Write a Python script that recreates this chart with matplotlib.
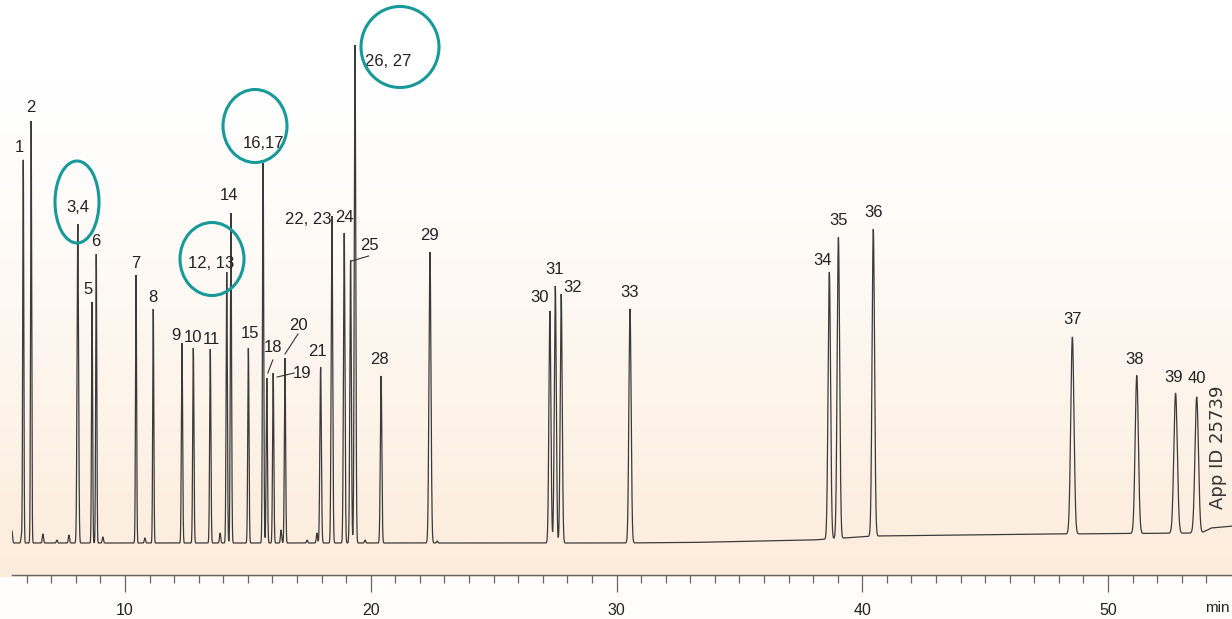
import numpy as np
import matplotlib
matplotlib.use("Agg")
import matplotlib.pyplot as plt
from matplotlib.patches import Ellipse
from matplotlib.lines import Line2D
from matplotlib.transforms import IdentityTransform

# ---------------- data ----------------
peak_labels = ['1', '2', '3,4', '5', '6', '7', '8', '9', '10', '11',
               '12, 13', '14', '15', '16,17', '18', '19', '20', '21', '22, 23', '24',
               '25', '26, 27', '28', '29', '30', '31', '32', '33', '34', '35',
               '36', '37', '38', '39', '40']
peak_times = [5.86, 6.18, 8.08, 8.66, 8.83, 10.45, 11.15, 12.32, 12.78, 13.47,
              14.14, 14.31, 15.02, 15.62, 15.77, 16.03, 16.51, 17.96, 18.42, 18.92,
              19.18, 19.36, 20.42, 22.41, 27.29, 27.51, 27.75, 30.55, 38.66, 39.03,
              40.45, 48.55, 51.17, 52.75, 53.61]
peak_heights = [383, 422, 319, 241, 289, 268, 234, 200, 195, 194,
                271, 330, 195, 380, 165, 170, 185, 176, 327, 310,
                283, 498, 167, 291, 232, 257, 249, 234, 267, 301,
                307, 197, 158, 140, 136]
peak_sigmas = [0.022, 0.022, 0.03, 0.022, 0.022, 0.022, 0.022, 0.025, 0.025, 0.025,
               0.025, 0.025, 0.025, 0.025, 0.025, 0.025, 0.025, 0.03, 0.03, 0.03,
               0.03, 0.03, 0.03, 0.04, 0.04, 0.04, 0.04, 0.045, 0.05, 0.05,
               0.05, 0.065, 0.065, 0.07, 0.07]

minor_times = [5.40, 5.79, 6.66, 7.23, 7.72, 9.10, 10.81, 13.87, 16.35, 17.41, 17.81, 19.77, 22.70]
minor_heights = [12, 7, 9, 3, 8, 6, 5, 10, 13, 3, 10, 3, 2]

baseline_times = [5.4, 30.0, 33.0, 38.0, 40.5, 48.0, 53.8, 54.2, 55.1]
baseline_levels = [0, 0, 0.5, 3, 7, 9, 10, 15, 17]

major_ticks = [10, 20, 30, 40, 50]
minor_ticks = list(range(6, 55))

# ---------------- layout / style ----------------
W, H = 1232, 619
LINE = '#3b3b3b'
TEAL = '#17999a'
plt.rcParams['font.family'] = ['Liberation Sans Narrow', 'Liberation Sans', 'DejaVu Sans']

fig = plt.figure(figsize=(W / 100, H / 100), dpi=100)

# background gradient (white top -> peach near the axis)
bg = fig.add_axes([0, 0, 1, 1], zorder=0)
bg.axis('off')
rows = np.arange(H)
frac = np.clip((rows - 80) / (575 - 80), 0, 1) ** 1.3
top_c = np.array([255, 255, 255]) / 255
bot_c = np.array([252, 236, 219]) / 255
img = top_c[None, :] * (1 - frac[:, None]) + bot_c[None, :] * frac[:, None]
img[rows > 576] = np.array([255, 254, 252]) / 255
bg.imshow(img[:, None, :].repeat(4, axis=1), aspect='auto', extent=(0, W, H, 0))
bg.set_xlim(0, W)
bg.set_ylim(H, 0)

# main axes
ax_left, ax_bottom_px = 12, 575
ax = fig.add_axes([ax_left / W, (H - ax_bottom_px) / H, (W - ax_left) / W, ax_bottom_px / H], zorder=1)
ax.patch.set_alpha(0)
px_per_min = 24.575
x0 = 10 + (ax_left - 125) / px_per_min
x1 = 10 + (W - 125) / px_per_min
ax.set_xlim(x0, x1)
ax.set_ylim(-32, 543)

t = np.arange(5.40, 55.06, 0.002)
sig = np.interp(t, baseline_times, baseline_levels)
for tp, hp, sp in zip(peak_times, peak_heights, peak_sigmas):
    sig = sig + hp * np.exp(-0.5 * ((t - tp) / sp) ** 2)
for tp, hp in zip(minor_times, minor_heights):
    sig = sig + hp * np.exp(-0.5 * ((t - tp) / 0.025) ** 2)
ax.plot(t, sig, color=LINE, lw=0.9, solid_joinstyle='miter')

for s in ['top', 'right', 'left']:
    ax.spines[s].set_visible(False)
ax.spines['bottom'].set_color('#666666')
ax.spines['bottom'].set_linewidth(1.0)
ax.set_yticks([])
ax.set_xticks(major_ticks)
ax.set_xticks(minor_ticks, minor=True)
ax.set_xticklabels([str(v) for v in major_ticks])
ax.tick_params(axis='x', which='major', length=12, width=0.9, color='#666666',
               labelsize=11.5, labelcolor='#222222', pad=8)
ax.tick_params(axis='x', which='minor', length=6, width=0.9, color='#666666')

# peak labels: offsets in pixels relative to the peak top
label_offsets = {
    '1': (-4, 13), '2': (0, 13), '3,4': (0, 16), '5': (-4, 12), '6': (0, 12),
    '7': (0, 12), '8': (0, 12), '9': (-6, 8), '10': (0, 10), '11': (1, 10),
    '12, 13': (-16, 9), '14': (-2, 17), '15': (2, 15), '16,17': (0, 20),
    '18': (6, 30), '19': (29, 0), '20': (13, 33), '21': (-3, 15),
    '22, 23': (-24, -4), '24': (0, 16), '25': (19, 15), '26, 27': (33, -16),
    '28': (-2, 16), '29': (0, 17), '30': (-10, 13), '31': (-1, 16), '32': (11, 6),
    '33': (0, 16), '34': (-7, 11), '35': (0, 17), '36': (0, 17), '37': (0, 17),
    '38': (-2, 16), '39': (-2, 16), '40': (0, 19),
}
top_vals = {}
for lab, tp, hp in zip(peak_labels, peak_times, peak_heights):
    ytop = hp + np.interp(tp, baseline_times, baseline_levels)
    top_vals[lab] = (tp, ytop)
    dx, dy = label_offsets[lab]
    ax.annotate(lab, xy=(tp, ytop), xytext=(dx, dy), textcoords='offset pixels',
                ha='center', va='center', fontsize=12, color='#222222')

# leader lines (pixel offsets from peak top: start, end)
leaders = {
    '18': ((1, 5), (6, 18)),
    '19': ((4, -4), (21, 0)),
    '20': ((0, 4), (13, 24)),
    '25': ((1, -1), (18, 4)),
}
fig.canvas.draw()
for lab, ((sx, sy), (ex, ey)) in leaders.items():
    px, py = ax.transData.transform(top_vals[lab])
    fig.add_artist(Line2D([px + sx, px + ex], [py + sy, py + ey], transform=IdentityTransform(),
                          color='#333333', lw=0.8, zorder=3))

# overlay in figure pixel coordinates (y downwards)
ov = fig.add_axes([0, 0, 1, 1], zorder=2)
ov.axis('off')
ov.patch.set_alpha(0)
ov.set_xlim(0, W)
ov.set_ylim(H, 0)
circles = [((77, 202), 44, 82), ((212, 259), 64, 73), ((255, 126), 64, 73), ((400, 47), 78, 81)]
for (cx, cy), w, h in circles:
    ov.add_patch(Ellipse((cx, cy), w, h, fill=False, edgecolor=TEAL, lw=2.2))

ov.text(1218, 447, 'App ID 25739', rotation=90, ha='center', va='center',
        fontsize=13, color='#333333', family=['DejaVu Sans'])
ov.text(1230, 608, 'min', ha='right', va='center', fontsize=11, color='#222222')

fig.savefig('out.png', dpi=100)
